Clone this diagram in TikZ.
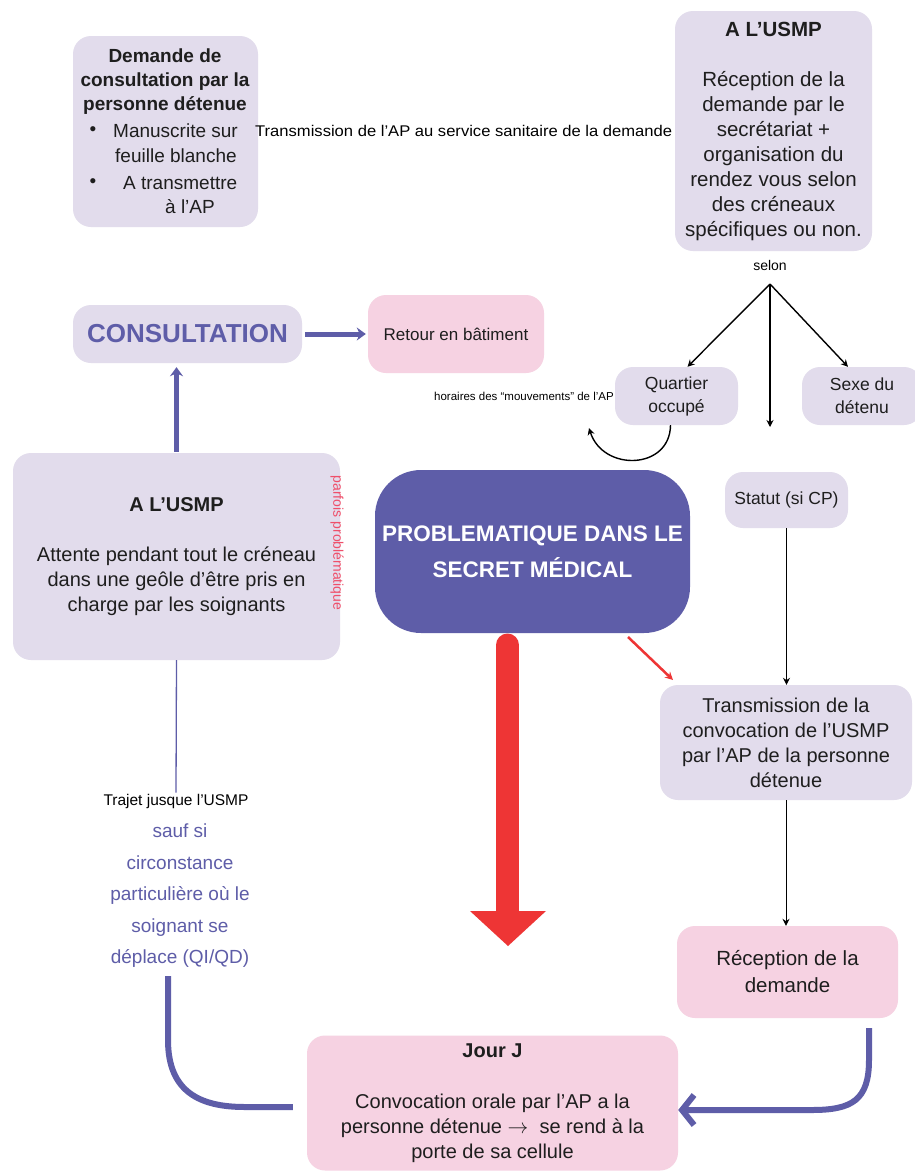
\documentclass[tikz,border=0pt]{standalone}
\usepackage{fontspec}
\setmainfont{Liberation Sans}
\usetikzlibrary{arrows.meta}
\definecolor{lav}{HTML}{E2DCEC}
\definecolor{pinkb}{HTML}{F6D2E2}
\definecolor{purp}{HTML}{5E5DA8}
\definecolor{redA}{HTML}{EE3535}
\definecolor{txt}{HTML}{1E1E1E}
\definecolor{pinkred}{HTML}{EF4F6A}
\tikzset{
  box/.style={rounded corners=18pt, inner sep=0pt, align=center, text=txt},
  lavbox/.style={box, fill=lav},
  pinkbox/.style={box, fill=pinkb},
  ftw/.style={font=\fontsize{20}{25}\selectfont},
  blk/.style={black, line width=1.4pt, -{Stealth[length=7pt,width=7pt]}},
  thickp/.style={purp, line width=5pt, -{Stealth[length=9pt,width=13pt]}},
}
\begin{document}
\begin{tikzpicture}[x=1pt,y=-1pt]
\useasboundingbox (0,0) rectangle (915,1171);
\fill[white] (0,0) rectangle (915,1171);

% top-left request box
\node[lavbox, minimum width=185pt, minimum height=191pt] (dem) at (165.5,131.5) {};
\node[font=\fontsize{19}{24}\selectfont\bfseries, align=center, text=txt] (demh) at (165,82) {Demande de\\consultation par la\\personne détenue};
\node[font=\fontsize{19}{24}\selectfont, text=txt] (d1) at (93,131) {•};
\node[font=\fontsize{19}{24}\selectfont, text=txt, anchor=west, inner sep=0pt] (b1) at (113,131) {Manuscrite sur};
\node[font=\fontsize{19}{24}\selectfont, text=txt, anchor=west, inner sep=0pt] (b1b) at (115,156) {feuille blanche};
\node[font=\fontsize{19}{24}\selectfont, text=txt] (d2) at (93,183) {•};
\node[font=\fontsize{19}{24}\selectfont, text=txt, anchor=west, inner sep=0pt] (b2) at (123,183) {A transmettre};
\node[font=\fontsize{19}{24}\selectfont, text=txt, anchor=west, inner sep=0pt] (b2b) at (165,207) {à l’AP};

\node[font=\fontsize{15.5}{17}\selectfont, anchor=west, inner sep=0pt] (tlab) at (255,131) {\scalebox{1.07}[1]{Transmission de l’AP au service sanitaire de la demande}};

% top-right USMP box
\node[lavbox, minimum width=197pt, minimum height=240pt, font=\fontsize{20.5}{25}\selectfont] (usmp1) at (773.5,131) {\textbf{A L’USMP}\\[25pt]Réception de la\\demande par le\\secrétariat +\\organisation du\\rendez vous selon\\des créneaux\\spécifiques ou non.};

\node[font=\fontsize{14}{16}\selectfont, inner sep=0pt] (selon) at (770,265) {selon};
\coordinate (fan) at (770,284);
\coordinate (stend) at (770,427);

\node[lavbox, minimum width=123pt, minimum height=58pt, font=\fontsize{17.5}{23}\selectfont] (quart) at (676.5,396) {Quartier\\occupé};
\node[lavbox, minimum width=120pt, minimum height=58pt, font=\fontsize{17.5}{23}\selectfont] (sexe) at (862,396) {Sexe du\\détenu};
\node[lavbox, minimum width=123pt, minimum height=56pt, font=\fontsize{17.5}{23}\selectfont] (statut) at (786.5,500) {Statut (si CP)};

\draw[blk] (fan) -- ([xshift=11pt]quart.north);
\draw[blk] (fan) -- ([xshift=-14pt]sexe.north);
\draw[blk] (fan) -- (stend);

\node[font=\fontsize{11.5}{13}\selectfont, anchor=east, inner sep=0pt] (hor) at (614,396) {horaires des “mouvements” de l’AP};
\coordinate (hend) at (589,428);
\draw[blk] ([xshift=-6pt]quart.south) .. controls (670,470) and (603,472) .. (hend);

% consultation row
\node[lavbox, minimum width=229pt, minimum height=58pt, text=purp, font=\fontsize{26}{30}\selectfont\bfseries] (consult) at (187.5,334) {CONSULTATION};
\node[pinkbox, minimum width=176pt, minimum height=78pt, font=\fontsize{17}{20}\selectfont] (retour) at (456,334) {Retour en bâtiment};
\draw[thickp, shorten <=3pt, shorten >=2pt] (consult) -- (retour);

% left USMP box
\node[lavbox, minimum width=327pt, minimum height=207pt, ftw] (usmp2) at (176.5,556.5) {\textbf{A L’USMP}\\[25pt]Attente pendant tout le créneau\\dans une geôle d’être pris en\\charge par les soignants};
\node[rotate=-90, text=pinkred, font=\fontsize{14}{15}\selectfont, inner sep=0pt] (parf) at (337,543) {parfois problématique};
\draw[thickp, shorten <=1pt, shorten >=4pt] (usmp2.north) -- (usmp2.north |- consult.south);

% central problem box
\node[box, fill=purp, rounded corners=46pt, minimum width=315pt, minimum height=163pt, text=white, font=\fontsize{22.5}{36}\selectfont\bfseries] (prob) at (532.5,551.5) {PROBLEMATIQUE DANS LE\\SECRET MÉDICAL};

% big red arrow
\coordinate (rtop) at (507.5,645);
\coordinate (rtip) at (508,946);
\draw[redA, line width=23pt, line cap=round] (rtop) -- (507.5,915);
\fill[redA] (470,911) -- (546,911) -- (rtip) -- cycle;

% transmission box
\node[lavbox, minimum width=252pt, minimum height=115pt, ftw] (trans) at (786,742.5) {Transmission de la\\convocation de l’USMP\\par l’AP de la personne\\détenue};
\coordinate (rs) at (628,637);
\draw[redA, line width=2.5pt, -{Stealth[length=8pt,width=8pt]}] (rs) -- (673,680);

\draw[blk] (statut.south) -- (statut.south |- trans.north);

\node[pinkbox, minimum width=221pt, minimum height=92pt, font=\fontsize{20.5}{27}\selectfont] (recep) at (787.5,972) {Réception de la\\demande};
\draw[blk, line width=1pt] (trans.south) -- (trans.south |- recep.north);

% Jour J
\node[pinkbox, minimum width=371pt, minimum height=135pt, ftw] (jour) at (492.5,1103) {\textbf{Jour J}\\[26pt]Convocation orale par l’AP a la\\personne détenue $\rightarrow$\ \ se rend à la\\porte de sa cellule};

\coordinate (rc) at (869,1028);
\draw[purp, line width=6pt, -{Straight Barb[length=12pt,width=30pt]}] (rc) -- (869,1060) .. controls (869,1100) and (852,1110) .. (812,1110) -- ([yshift=-7pt]jour.east);

% left path
\node[font=\fontsize{15.5}{17}\selectfont, inner sep=1pt] (trajet) at (176,801) {Trajet jusque l’USMP};
\draw[purp, line width=1.3pt] (usmp2.south) -- (trajet.north);
\node[text=purp, font=\fontsize{19}{31.5}\selectfont, align=center, inner sep=0pt] (sauf) at (180,896) {sauf si\\circonstance\\particulière où le\\soignant se\\déplace (QI/QD)};
\coordinate (lc) at (168,976);
\draw[purp, line width=6pt, shorten >=14pt] (lc) -- (168,1040) .. controls (168,1092) and (200,1107) .. (245,1107) -- ([yshift=-4pt]jour.west);
\end{tikzpicture}
\end{document}
